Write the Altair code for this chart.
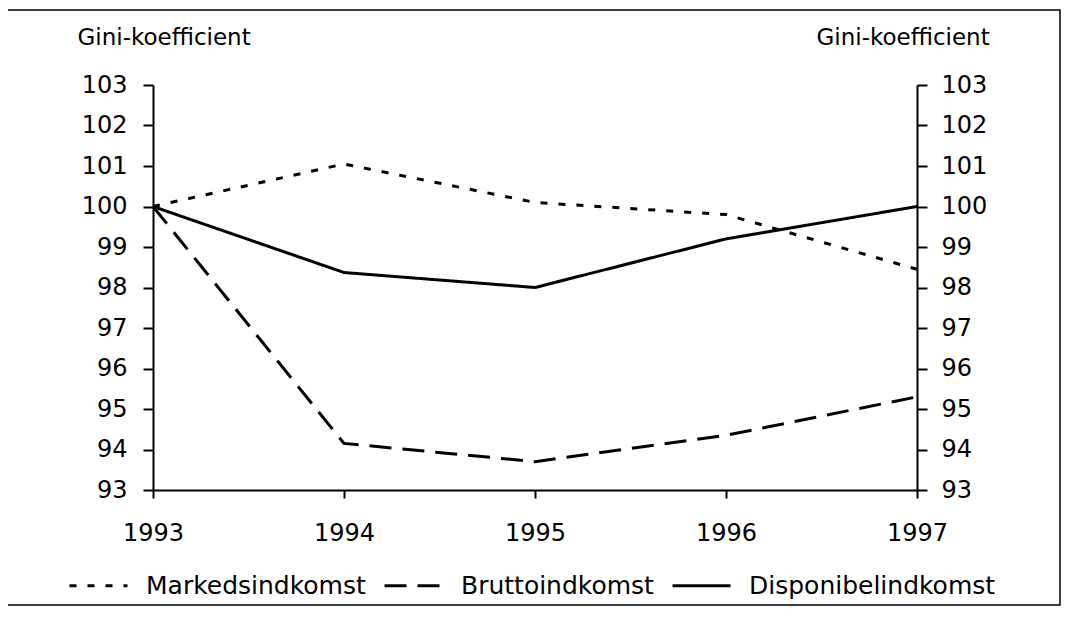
import altair as alt
import pandas as pd

years = [1993, 1994, 1995, 1996, 1997]
series_names = ["Markedsindkomst", "Bruttoindkomst", "Disponibelindkomst"]
markeds = [100.0, 101.05, 100.1, 99.8, 98.45]
brutto = [100.0, 94.15, 93.7, 94.35, 95.3]
disponibel = [100.0, 98.37, 98.0, 99.2, 100.0]
y_ticks = list(range(93, 104))
axis_title = "Gini-koefficient"

rows = []
for name, vals in zip(series_names, [markeds, brutto, disponibel]):
    for yr, v in zip(years, vals):
        rows.append({"year": yr, "value": v, "series": name})
df = pd.DataFrame(rows)

FONT = "DejaVu Sans"
common = dict(
    domainColor="black", domainWidth=2, tickColor="black", tickWidth=2,
    labelColor="black", labelFont=FONT, labelFontSize=24, grid=False,
)

x_scale = alt.Scale(domain=[1993, 1997], nice=False, zero=False)
y_scale = alt.Scale(domain=[93, 103], nice=False, zero=False)

x_axis = alt.Axis(values=years, format="d", title=None, tickSize=8,
                  labelPadding=23, labelFlush=False, **common)

title_common = dict(title=axis_title, titleAngle=0, titleAlign="left",
                    titleBaseline="alphabetic", titleY=-41, titleFont=FONT,
                    titleFontSize=23, titleFontWeight="normal",
                    titleColor="black")

left_axis = alt.Axis(orient="left", values=y_ticks, format="d", tickSize=10,
                     labelPadding=16, titleX=-76, **title_common, **common)
right_axis = alt.Axis(orient="right", values=y_ticks, format="d", tickSize=10,
                      labelPadding=14, titleX=-101, **title_common, **common)

legend = alt.Legend(orient="none", legendX=-85, legendY=470,
                    direction="horizontal", symbolType="stroke",
                    symbolSize=3364, symbolStrokeWidth=3,
                    symbolStrokeColor="black", labelFont=FONT,
                    labelFontSize=25, labelColor="black", labelOffset=17,
                    labelLimit=400, columnPadding=12)

lines = alt.Chart(df).mark_line(strokeWidth=3, color="black", strokeCap="butt").encode(
    x=alt.X("year:Q", scale=x_scale, axis=x_axis),
    y=alt.Y("value:Q", scale=y_scale, axis=left_axis),
    strokeDash=alt.StrokeDash(
        "series:N", title=None,
        scale=alt.Scale(domain=series_names, range=[[7, 11], [22, 11], [1, 0]]),
        sort=series_names, legend=legend),
)

right = alt.Chart(df).mark_line(opacity=0).encode(
    x=alt.X("year:Q", scale=x_scale, axis=x_axis),
    y=alt.Y("value:Q", scale=y_scale, axis=right_axis),
    detail="series:N",
)

border = alt.Chart(alt.Data(values=[{"a": 1}])).mark_rect(
    filled=False, stroke="black", strokeWidth=1.5
).encode(
    x=alt.value(-148), x2=alt.value(907), y=alt.value(-75), y2=alt.value(520)
)

chart = alt.layer(border, lines, right).resolve_scale(y="independent").properties(
    width=764, height=405,
    padding={"left": 145, "top": 77, "right": 145, "bottom": 117},
    autosize=alt.AutoSizeParams(type="none"),
    background="white",
).configure_view(stroke="transparent")

chart.save("out.html", embed_options={"renderer": "svg", "actions": False})
